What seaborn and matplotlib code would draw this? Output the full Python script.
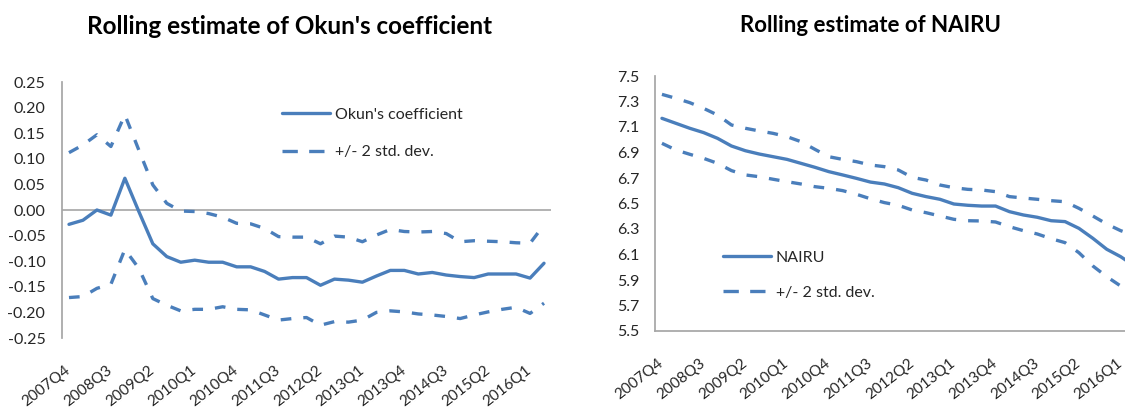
import numpy as np
import pandas as pd
import seaborn as sns
import matplotlib.pyplot as plt
import matplotlib.transforms as mtransforms

# quarterly categories, 2007Q4 .. 2016Q2
quarters = ['2007Q4',
            '2008Q1', '2008Q2', '2008Q3', '2008Q4',
            '2009Q1', '2009Q2', '2009Q3', '2009Q4',
            '2010Q1', '2010Q2', '2010Q3', '2010Q4',
            '2011Q1', '2011Q2', '2011Q3', '2011Q4',
            '2012Q1', '2012Q2', '2012Q3', '2012Q4',
            '2013Q1', '2013Q2', '2013Q3', '2013Q4',
            '2014Q1', '2014Q2', '2014Q3', '2014Q4',
            '2015Q1', '2015Q2', '2015Q3', '2015Q4',
            '2016Q1', '2016Q2']

# Okun's coefficient (rolling estimate) and +/- 2 std. dev. band
okun = [-0.028, -0.020, 0.000, -0.010, 0.062, -0.003, -0.066, -0.091, -0.102, -0.098,
        -0.102, -0.102, -0.111, -0.111, -0.120, -0.135, -0.132, -0.132, -0.147, -0.135,
        -0.137, -0.141, -0.129, -0.118, -0.118, -0.125, -0.122, -0.127, -0.130, -0.132,
        -0.125, -0.125, -0.125, -0.133, -0.104]
okun_upper = [0.112, 0.127, 0.147, 0.124, 0.186, 0.117, 0.049, 0.013, -0.002, -0.003,
              -0.007, -0.014, -0.026, -0.027, -0.036, -0.052, -0.053, -0.053, -0.066, -0.051,
              -0.053, -0.062, -0.049, -0.038, -0.042, -0.043, -0.042, -0.046, -0.062, -0.060,
              -0.061, -0.062, -0.064, -0.065, -0.029]
okun_lower = [-0.171, -0.169, -0.153, -0.145, -0.077, -0.114, -0.173, -0.186, -0.197, -0.194,
              -0.194, -0.189, -0.194, -0.195, -0.205, -0.215, -0.212, -0.210, -0.225, -0.218,
              -0.219, -0.215, -0.200, -0.197, -0.199, -0.203, -0.205, -0.208, -0.212, -0.205,
              -0.199, -0.194, -0.190, -0.202, -0.182]

# NAIRU (rolling estimate) and +/- 2 std. dev. band
nairu = [7.168, 7.129, 7.090, 7.056, 7.011, 6.951, 6.914, 6.888, 6.867, 6.846,
         6.815, 6.784, 6.750, 6.724, 6.697, 6.668, 6.653, 6.624, 6.580, 6.554,
         6.533, 6.496, 6.486, 6.480, 6.480, 6.436, 6.410, 6.392, 6.365, 6.358,
         6.305, 6.227, 6.141, 6.083, 6.010]
nairu_upper = [7.356, 7.325, 7.291, 7.246, 7.194, 7.116, 7.090, 7.069, 7.050, 7.024,
               6.985, 6.925, 6.867, 6.846, 6.828, 6.802, 6.789, 6.763, 6.705, 6.684,
               6.645, 6.624, 6.611, 6.606, 6.593, 6.554, 6.543, 6.533, 6.522, 6.514,
               6.462, 6.402, 6.339, 6.287, 6.250]
nairu_lower = [6.972, 6.920, 6.886, 6.854, 6.815, 6.758, 6.724, 6.710, 6.690, 6.671,
               6.653, 6.632, 6.619, 6.601, 6.572, 6.537, 6.507, 6.486, 6.449, 6.428,
               6.402, 6.376, 6.365, 6.363, 6.355, 6.318, 6.287, 6.261, 6.224, 6.193,
               6.114, 6.010, 5.926, 5.853, 5.800]

BLUE = '#4A7EBB'
GREY = '#A6A6A6'
DASH = (0, (3.2, 3.6))

sns.set_theme(style='white')
plt.rcParams['font.family'] = ['Lato', 'DejaVu Sans']
plt.rcParams['axes.unicode_minus'] = False

df = pd.DataFrame({'pos': np.arange(len(quarters)), 'quarter': quarters,
                   'okun': okun, 'okun_upper': okun_upper, 'okun_lower': okun_lower,
                   'nairu': nairu, 'nairu_upper': nairu_upper, 'nairu_lower': nairu_lower})

W, H = 1125, 408
fig = plt.figure(figsize=(W / 100, H / 100), dpi=100)
ax1 = fig.add_axes([62 / W, 1 - 338 / H, 489 / W, 256 / H])
ax2 = fig.add_axes([655 / W, 1 - 331 / H, 486.5 / W, 255 / H])


def draw_panel(ax, col, label, xpad):
    sns.lineplot(data=df, x='pos', y=col, ax=ax, color=BLUE, lw=2.4, label=label)
    sns.lineplot(data=df, x='pos', y=col + '_upper', ax=ax, color=BLUE, lw=2.4,
                 linestyle=DASH, label='+/- 2 std. dev.')
    sns.lineplot(data=df, x='pos', y=col + '_lower', ax=ax, color=BLUE, lw=2.4,
                 linestyle=DASH, label='_nolegend_')
    ax.set_xlim(-0.5, len(quarters) - 0.5)
    ax.set_xticks(df['pos'][::3])
    ax.set_xticklabels(df['quarter'][::3], rotation=38, ha='right', va='center',
                       rotation_mode='anchor', fontsize=11)
    # nudge the rotated labels a little to the right, like the original
    shift = mtransforms.ScaledTranslation(6 / 100, 0, fig.dpi_scale_trans)
    for lab in ax.get_xticklabels():
        lab.set_transform(lab.get_transform() + shift)
    ax.set_xlabel('')
    ax.set_ylabel('')
    ax.tick_params(length=0)
    ax.tick_params(axis='y', labelsize=11.5)
    ax.tick_params(axis='x', pad=xpad)
    for s in ['top', 'right']:
        ax.spines[s].set_visible(False)
    ax.spines['left'].set_color(GREY)
    ax.spines['bottom'].set_color(GREY)


draw_panel(ax1, 'okun', "Okun's coefficient", 22)
draw_panel(ax2, 'nairu', 'NAIRU', 22)

# left panel: category axis crosses at zero
yt1 = np.round(np.arange(-0.25, 0.26, 0.05), 2)
ax1.set_ylim(-0.25, 0.25)
ax1.set_yticks(yt1)
ax1.set_yticklabels(['%.2f' % (v + 0.0) for v in yt1])
ax1.spines['bottom'].set_visible(False)
ax1.axhline(0, color=GREY, lw=1.2, zorder=1)
ax1.tick_params(axis='y', pad=12)

yt2 = np.round(np.arange(5.5, 7.51, 0.2), 1)
ax2.set_ylim(5.5, 7.5)
ax2.set_yticks(yt2)
ax2.set_yticklabels(['%.1f' % v for v in yt2])
ax2.tick_params(axis='y', pad=11)

leg_kw = dict(loc='upper left', frameon=False, fontsize=11.5, handlelength=3.0,
              handletextpad=0.3, borderpad=0, borderaxespad=0)
leg1 = ax1.legend(bbox_to_anchor=(0.45, 0.90), labelspacing=1.45, **leg_kw)
leg2 = ax2.legend(bbox_to_anchor=(0.14, 0.315), labelspacing=1.3, **leg_kw)
# the legend shows two long dashes for the band
for leg in (leg1, leg2):
    leg.get_lines()[1].set_linestyle((0, (4.6, 3.4)))

fig.text(290 / W, 1 - 26 / H, "Rolling estimate of Okun's coefficient", ha='center', va='center',
         fontsize=17.5, fontweight='bold', color='black')
fig.text(870 / W, 1 - 26 / H, 'Rolling estimate of NAIRU', ha='center', va='center',
         fontsize=16, fontweight='bold', color='black')

fig.savefig('out.png', dpi=100)
